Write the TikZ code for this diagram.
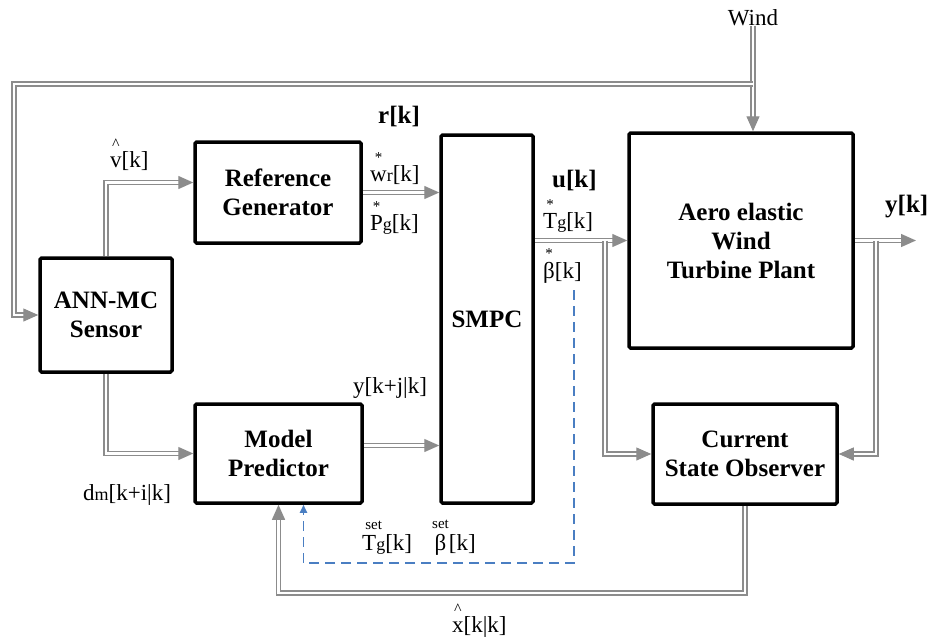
\documentclass[tikz,border=0pt]{standalone}
\usepackage{fontspec}
\setmainfont{Liberation Serif}
\usetikzlibrary{arrows.meta}

\definecolor{sigline}{HTML}{8C8C8C}
\definecolor{setblue}{HTML}{4A7EC2}

% small mark (star, hat, set) centred over a letter
\newcommand{\markon}[4][15]{\leavevmode\vbox{\offinterlineskip\halign{\hfil##\hfil\cr
  \fontsize{#1}{#1}\selectfont #2\cr\noalign{\kern#4}\vphantom{T}#3\cr}}}
\newcommand{\subl}[1]{{\fontsize{18}{18}\selectfont #1}}

\tikzset{
  block/.style={draw, line width=3.5pt, rounded corners=1.5pt, align=center,
    inner sep=0pt, font=\fontsize{25}{29}\selectfont\bfseries},
  sig/.style={draw=sigline, line width=1.3pt, double=white, double distance=2.8pt},
  sigarrow/.style={sig, -{Triangle[length=15pt,width=13pt]}},
  setline/.style={draw=setblue, line width=1.8pt, dash pattern=on 10pt off 6pt,
    -{Triangle[length=8pt,width=7pt]}},
  lbl/.style={anchor=base west, inner sep=0pt},
  boldlbl/.style={lbl, font=\fontsize{25}{29}\selectfont\bfseries}
}

\begin{document}
\begin{tikzpicture}[x=1pt, y=-1pt, font=\fontsize{23}{26}\selectfont]

    \useasboundingbox (0,0) rectangle (930,638);

    % Main blocks
    \node[block, minimum width=132, minimum height=114] (sensor) at (106,315) {ANN-MC\\Sensor};
    \node[block, minimum width=166, minimum height=101] (refgen) at (278,192.5) {Reference\\Generator};
    \node[block, minimum width=92, minimum height=368] (smpc) at (487,319) {SMPC};
    \node[block, minimum width=224, minimum height=215] (plant) at (741,240.5) {Aero elastic\\Wind\\Turbine Plant};
    \node[block, minimum width=167, minimum height=99] (predictor) at (278.5,453.5) {Model\\Predictor};
    \node[block, minimum width=184, minimum height=100] (observer) at (745,454) {Current\\State Observer};

    % Wind input
    \node[anchor=base, inner sep=0pt] (wind) at (753,25) {Wind};
    \draw[sigarrow] (wind.south) -- (wind.south |- plant.north);

    % Branch points
    \coordinate (windtap) at (753,84);
    \coordinate (windleft) at (14,84);
    \coordinate (utap) at (605,240.5);
    \coordinate (ytap) at (876,240.5);
    \coordinate (yout) at (916,240.5);
    \coordinate (xlow) at (745,593);
    \coordinate (betatop) at (574,290);
    \coordinate (betalow) at (574,563);

    % Signal lines
    \draw[sigarrow] (windtap) -- (windleft) |- (sensor.west);
    \draw[sigarrow] (sensor.north) |- ([yshift=10pt]refgen.west);
    \draw[sigarrow] (refgen.east) -- (refgen.east -| smpc.west);
    \draw[sigarrow] (smpc.east |- plant.west) -- (plant.west);
    \draw[sigarrow] (utap) |- (observer.west);
    \draw[sigarrow] (plant.east) -- (yout);
    \draw[sigarrow] (ytap) |- (observer.east);
    \draw[sigarrow] (sensor.south) |- (predictor.west);
    \draw[sigarrow] ([yshift=8pt]predictor.east) -- ([yshift=8pt]predictor.east -| smpc.west);
    \draw[sigarrow] (observer.south) -- (xlow) -| (predictor.south);

    % Set point feedback (dashed)
    \draw[setline] (betatop) -- (betalow) -| ([xshift=25pt]predictor.south);

    % Signal labels
    \node[lbl] (vhat) at (110,167) {\markon[16]{\textasciicircum}{v}{2pt}[k]};
    \node[boldlbl] (rk) at (378,123) {r[k]};
    \node[lbl] (wref) at (370,181) {\markon{*}{w}{3pt}\subl{r}[k]};
    \node[lbl] (pref) at (370,230) {\markon{*}{P}{3pt}\subl{g}[k]};
    \node[boldlbl] (uk) at (552,187) {u[k]};
    \node[lbl] (tref) at (543,228) {\markon{*}{T}{3pt}\subl{g}[k]};
    \node[lbl] (bref) at (543,278) {\markon{*}{β}{3pt}[k]};
    \node[boldlbl] (yk) at (885,212) {y[k]};
    \node[lbl] (ypred) at (353,393) {y[k+j|k]};
    \node[lbl] (dm) at (83,500) {d\subl{m}[k+i|k]};
    \node[lbl] (tset) at (362,550) {\markon{set}{T\subl{g}}{5pt}[k]};
    \node[lbl] (bset) at (432,550) {\markon{set}{β}{5pt}[k]};
    \node[lbl] (xhat) at (452,632) {\markon[16]{\textasciicircum}{x}{2pt}[k|k]};

\end{tikzpicture}
\end{document}
